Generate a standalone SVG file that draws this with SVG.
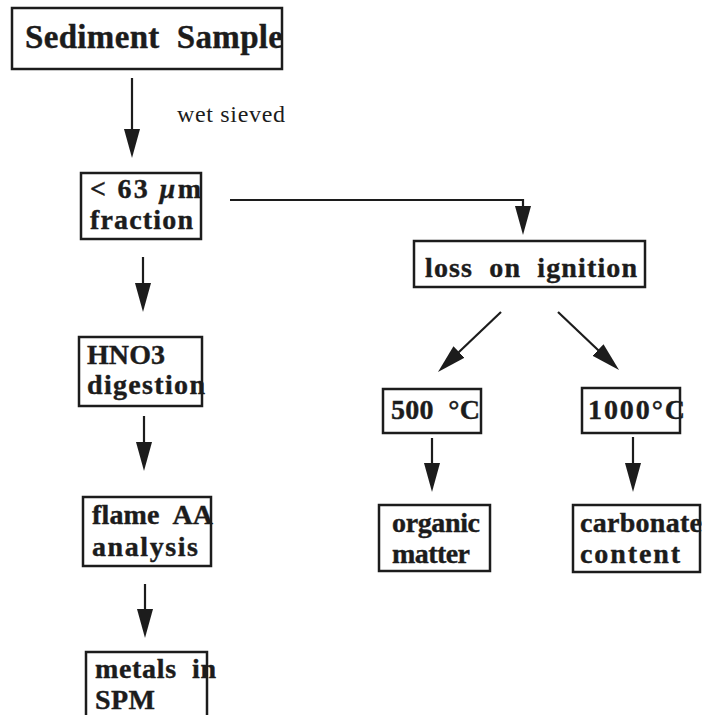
<svg xmlns="http://www.w3.org/2000/svg" width="702" height="715" viewBox="0 0 702 715">
<style>
.box{fill:#fff;stroke:#1c1c1c;stroke-width:2.5}
.t{font-family:"Liberation Serif","Times New Roman",serif;font-weight:bold;font-size:28px;fill:#1c1c1c;stroke:#1c1c1c;stroke-width:0.4;white-space:pre}
.lbl{font-family:"Liberation Serif","Times New Roman",serif;font-size:24px;fill:#1c1c1c;white-space:pre}
.c{fill:none;stroke:#1c1c1c;stroke-width:2.2}
</style>
<defs>
<marker id="ah" markerUnits="userSpaceOnUse" markerWidth="30" markerHeight="18" refX="20" refY="8" orient="auto">
<path d="M0,0 L29,8 L0,16 Z" fill="#1c1c1c"/>
</marker>
</defs>
<rect width="702" height="715" fill="#fff"/>
<g id="connectors">
<path class="c" d="M132,78 V149" marker-end="url(#ah)"/>
<path class="c" d="M143,257 V303" marker-end="url(#ah)"/>
<path class="c" d="M144,416 V462" marker-end="url(#ah)"/>
<path class="c" d="M145,584 V629" marker-end="url(#ah)"/>
<path class="c" d="M230,200 H523 V226" marker-end="url(#ah)"/>
<path class="c" d="M501,312 L444.5,365.8" marker-end="url(#ah)"/>
<path class="c" d="M558,312 L612.5,363.8" marker-end="url(#ah)"/>
<path class="c" d="M432,438 V483" marker-end="url(#ah)"/>
<path class="c" d="M633,437 V483" marker-end="url(#ah)"/>
<text class="lbl" x="177" y="122" textLength="108" lengthAdjust="spacing">wet sieved</text>
</g>
<g id="sediment">
<rect class="box" x="12" y="8" width="270" height="61"/>
<text class="t" x="25" y="48" style="font-size:33px" textLength="258" lengthAdjust="spacing">Sediment  Sample</text>
</g>
<g id="fraction">
<rect class="box" x="81" y="173" width="120" height="66"/>
<text class="t" x="90" y="198" textLength="111" lengthAdjust="spacing">&lt; 63 <tspan font-style="italic">µ</tspan>m</text>
<text class="t" x="90" y="229" textLength="103" lengthAdjust="spacing">fraction</text>
</g>
<g id="loi">
<rect class="box" x="414" y="241" width="231" height="46"/>
<text class="t" x="425" y="277" textLength="212" lengthAdjust="spacing">loss  on  ignition</text>
</g>
<g id="hno3">
<rect class="box" x="79" y="337" width="123" height="69"/>
<text class="t" x="87" y="364" textLength="78" lengthAdjust="spacing">HNO3</text>
<text class="t" x="87" y="394" textLength="118" lengthAdjust="spacing">digestion</text>
</g>
<g id="flame">
<rect class="box" x="83" y="497" width="128" height="69"/>
<text class="t" x="92" y="524" textLength="121" lengthAdjust="spacing">flame  AA</text>
<text class="t" x="92" y="556" textLength="106" lengthAdjust="spacing">analysis</text>
</g>
<g id="metals">
<rect class="box" x="86" y="652" width="121" height="70"/>
<text class="t" x="95" y="678" textLength="121" lengthAdjust="spacing">metals  in</text>
<text class="t" x="95" y="709" textLength="60" lengthAdjust="spacing">SPM</text>
</g>
<g id="c500">
<rect class="box" x="383" y="389" width="98" height="44"/>
<text class="t" x="391" y="419" textLength="89" lengthAdjust="spacing">500  °C</text>
</g>
<g id="c1000">
<rect class="box" x="582" y="388" width="98" height="45"/>
<text class="t" x="588" y="419" textLength="97" lengthAdjust="spacing">1000°C</text>
</g>
<g id="organic">
<rect class="box" x="379" y="505" width="111" height="66"/>
<text class="t" x="392" y="532" textLength="88" lengthAdjust="spacing">organic</text>
<text class="t" x="392" y="563" textLength="78" lengthAdjust="spacing">matter</text>
</g>
<g id="carbonate">
<rect class="box" x="573" y="505" width="127" height="67"/>
<text class="t" x="580" y="532" textLength="122" lengthAdjust="spacing">carbonate</text>
<text class="t" x="580" y="563" textLength="100" lengthAdjust="spacing">content</text>
</g>
</svg>
